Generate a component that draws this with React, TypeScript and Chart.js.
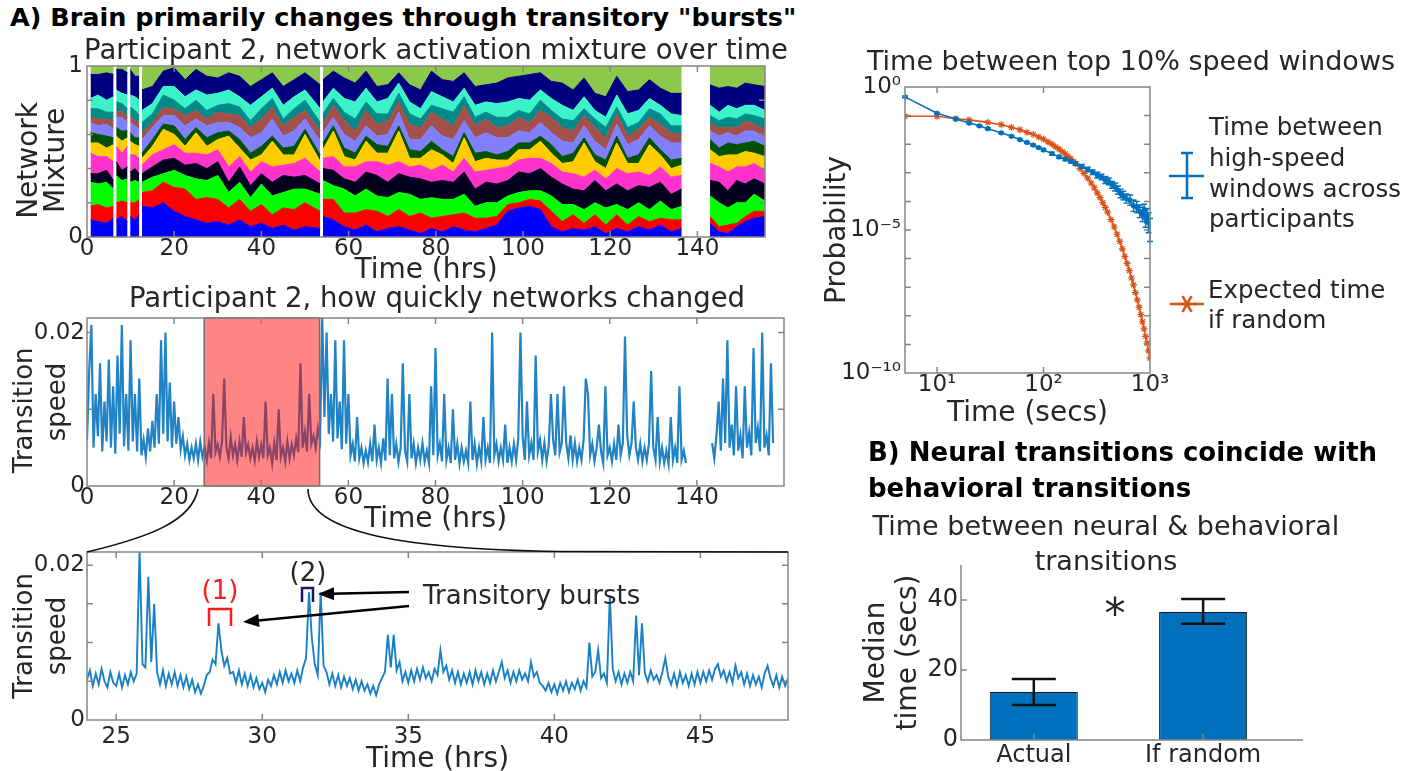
import React, { useEffect, useRef } from "react";
import { Chart, registerables } from "chart.js";
Chart.register(...registerables);

const FONT = "'DejaVu Sans', sans-serif";
const INK = "#262626";
const FRAME = "#858585";
const MBLUE = "#0072bd";
const MORANGE = "#d95319";

// ---------------- DATA ----------------
// Panel A top: network activation mixture (fraction of each network), null = no recording
const mixTimes = [0.8, 2.5, 4.5, 6.1, 6.4, 6.7, 8.0, 9.3, 9.6, 9.9,
  11.0, 12.0, 12.3, 12.6, 15, 17.5, 20, 22.5, 25, 27.5,
  30, 32.5, 35, 37.5, 40, 42.5, 45, 47.5, 50, 53.5,
  53.8, 54.1, 56.5, 59, 61.5, 64, 66.5, 69, 71.5, 74,
  76.5, 79, 81.5, 84, 86.5, 89, 91.5, 94, 96.5, 99,
  101.5, 104, 106.5, 109, 111.5, 114, 116.5, 119, 121.5, 124,
  126.5, 129, 131.5, 134, 136.4, 139.5, 142.9, 145, 147, 149,
  151, 153, 155.5];
const mixBlue = [.10, .09, .08, .11, null, .10, .12, .09, null, .12,
  .10, .13, null, .18, .17, .20, .15, .12, .10, .08,
  .09, .07, .10, .06, .08, .05, .07, .04, .06, .05,
  null, .12, .10, .06, .04, .07, .03, .05, .06, .04,
  .02, .05, .03, .06, .04, .03, .05, .07, .15, .17,
  .18, .16, .06, .03, .05, .04, .06, .02, .05, .03,
  .06, .04, .07, .03, .05, null, .08, .03, .02, .06,
  .09, .11, .12];
const mixRed = [.08, .10, .09, .07, null, .10, .09, .11, null, .08,
  .10, .09, null, .08, .10, .12, .14, .16, .12, .15,
  .13, .10, .12, .09, .11, .08, .10, .12, .14, .10,
  null, .10, .12, .08, .10, .09, .12, .07, .10, .08,
  .12, .06, .09, .07, .10, .08, .06, .05, .04, .03,
  .04, .05, .09, .06, .08, .04, .07, .05, .08, .04,
  .06, .05, .04, .07, .05, null, .04, .03, .05, .02,
  .03, .04, .03];
const mixGreen = [.14, .12, .15, .10, null, .16, .12, .14, null, .12,
  .13, .10, null, .06, .08, .05, .10, .08, .12, .10,
  .14, .09, .10, .08, .12, .11, .09, .12, .08, .10,
  null, .11, .08, .14, .10, .12, .09, .11, .10, .13,
  .08, .12, .10, .09, .11, .07, .09, .08, .05, .06,
  .05, .06, .09, .10, .06, .08, .07, .10, .06, .09,
  .08, .07, .10, .06, .08, null, .12, .14, .10, .12,
  .08, .10, .06];
const mixBlack = [.05, .06, .07, .05, null, .08, .06, .07, null, .06,
  .07, .05, null, .05, .06, .08, .07, .06, .09, .07,
  .08, .06, .09, .07, .06, .08, .10, .07, .08, .06,
  null, .07, .09, .06, .08, .10, .12, .09, .11, .10,
  .12, .09, .11, .10, .13, .10, .12, .11, .09, .12,
  .10, .13, .11, .12, .09, .11, .13, .10, .12, .11,
  .10, .13, .11, .09, .10, null, .09, .12, .10, .13,
  .11, .09, .10];
const mixMagenta = [.12, .10, .08, .11, null, .09, .10, .12, null, .10,
  .08, .09, null, .05, .07, .06, .08, .07, .06, .08,
  .07, .09, .06, .08, .07, .09, .06, .08, .10, .07,
  null, .06, .08, .07, .09, .06, .08, .10, .07, .06,
  .08, .07, .09, .06, .08, .10, .07, .09, .08, .07,
  .09, .06, .08, .07, .09, .08, .06, .07, .09, .10,
  .08, .07, .09, .10, .08, null, .10, .09, .11, .08,
  .10, .09, .08];
const mixYellow = [.06, .08, .05, .10, null, .06, .07, .05, null, .08,
  .06, .07, null, .04, .05, .12, .06, .04, .12, .05,
  .06, .18, .05, .07, .04, .15, .06, .05, .14, .06,
  null, .05, .15, .06, .04, .12, .05, .07, .18, .05,
  .04, .12, .06, .05, .12, .06, .07, .05, .04, .06,
  .05, .10, .06, .05, .07, .20, .05, .06, .15, .06,
  .05, .18, .07, .05, .06, null, .08, .06, .10, .07,
  .09, .06, .08];
const mixDarkGreen = [.06, .05, .07, .04, null, .05, .06, .04, null, .05,
  .04, .05, null, .03, .04, .03, .05, .04, .03, .05,
  .04, .03, .05, .04, .05, .03, .04, .05, .03, .04,
  null, .04, .03, .05, .04, .03, .05, .04, .03, .05,
  .04, .05, .03, .04, .03, .05, .04, .03, .05, .04,
  .04, .03, .05, .04, .05, .03, .04, .05, .04, .03,
  .05, .04, .03, .05, .04, null, .06, .05, .07, .06,
  .05, .07, .06];
const mixLavender = [.06, .05, .07, .05, null, .06, .08, .05, null, .06,
  .07, .05, null, .08, .07, .05, .06, .08, .05, .07,
  .06, .05, .07, .09, .08, .10, .07, .09, .06, .08,
  null, .06, .05, .08, .07, .06, .05, .07, .08, .06,
  .07, .09, .08, .10, .07, .09, .11, .10, .08, .07,
  .06, .08, .07, .09, .06, .07, .08, .06, .07, .08,
  .09, .07, .08, .10, .09, null, .05, .07, .06, .05,
  .07, .06, .05];
const mixBrown = [.03, .04, .03, .05, null, .03, .04, .03, null, .04,
  .03, .04, null, .04, .03, .05, .04, .06, .05, .04,
  .06, .05, .07, .06, .08, .07, .06, .08, .05, .06,
  null, .05, .07, .08, .06, .09, .07, .08, .06, .09,
  .07, .08, .10, .08, .09, .07, .08, .06, .07, .08,
  .06, .07, .09, .08, .07, .06, .08, .07, .06, .05,
  .06, .05, .07, .06, .05, null, .04, .05, .03, .05,
  .06, .04, .05];
const mixTeal = [.05, .06, .04, .05, null, .06, .04, .05, null, .05,
  .06, .04, null, .06, .05, .07, .05, .04, .06, .05,
  .04, .06, .05, .04, .06, .05, .04, .05, .06, .05,
  null, .06, .04, .05, .07, .05, .06, .04, .05, .06,
  .05, .04, .06, .08, .05, .05, .04, .06, .05, .04,
  .05, .06, .04, .05, .06, .04, .05, .06, .04, .05,
  .04, .05, .06, .04, .05, null, .05, .04, .06, .05,
  .04, .05, .06];
const mixAqua = [.06, .08, .07, .09, null, .07, .06, .08, null, .07,
  .08, .09, null, .07, .06, .05, .08, .07, .06, .09,
  .07, .08, .06, .09, .07, .06, .08, .07, .06, .08,
  null, .07, .06, .08, .10, .08, .07, .09, .06, .07,
  .06, .08, .07, .06, .05, .07, .06, .08, .09, .07,
  .08, .06, .07, .08, .06, .07, .05, .06, .07, .08,
  .07, .06, .05, .07, .06, null, .06, .05, .07, .06,
  .05, .06, .05];
const mixNavy = [.14, .12, .16, .13, null, .12, .14, .13, null, .15,
  .12, .14, null, .12, .10, .09, .11, .10, .12, .11,
  .09, .10, .12, .11, .10, .09, .11, .10, .10, .14,
  null, .13, .10, .12, .11, .10, .09, .08, .06, .10,
  .11, .12, .10, .12, .09, .11, .10, .12, .14, .13,
  .15, .10, .10, .13, .12, .11, .10, .12, .11, .13,
  .12, .11, .10, .12, .13, null, .12, .14, .11, .12,
  .13, .12, .14];
const mixTickValues = [0, 0.2, 0.4, 0.6, 0.8, 1];
const mixTickLabels = ["0", "", "", "", "", "1"];

// Panel A middle: transition speed, sampled every half hour
const speedStep = 0.5;
const speedSeg1Start = 0;
const speedSeg1 = [
  .0060, .0150, .0210, .0050, .0120, .0065, .0160, .0045, .0110, .0058, .0165, .0050, .0130, .0042, .0170, .0068, .0210, .0052, .0120, .0046,
  .0190, .0058, .0120, .0045, .0140, .0040, .0060, .0038, .0075, .0045, .0085, .0050, .0120, .0055, .0190, .0068, .0200, .0058, .0135, .0050,
  .0110, .0055, .0090, .0048, .0065, .0040, .0055, .0034, .0050, .0036, .0055, .0034, .0058, .0038, .0050, .0033, .0056, .0036, .0120, .0044,
  .0054, .0038, .0058, .0140, .0050, .0036, .0064, .0040, .0054, .0034, .0058, .0038, .0090, .0043, .0054, .0036, .0050, .0033, .0058, .0038,
  .0054, .0036, .0110, .0040, .0050, .0029, .0056, .0034, .0100, .0038, .0050, .0032, .0058, .0036, .0054, .0040, .0062, .0044, .0160, .0050,
  .0070, .0045, .0120, .0055, .0065, .0050, .0075, .0060, .0220, .0090, .0200, .0068, .0120, .0058, .0190, .0062, .0110, .0048, .0190, .0055,
  .0120, .0040, .0055, .0032, .0090, .0036, .0050, .0030, .0046, .0031, .0055, .0032, .0080, .0034, .0050, .0030, .0062, .0033, .0140, .0040,
  .0120, .0036, .0055, .0031, .0050, .0160, .0046, .0032, .0120, .0036, .0055, .0030, .0050, .0034, .0056, .0032, .0046, .0030, .0130, .0040,
  .0180, .0040, .0055, .0032, .0120, .0034, .0050, .0030, .0100, .0034, .0055, .0029, .0050, .0032, .0046, .0030, .0110, .0034, .0055, .0029,
  .0050, .0032, .0090, .0034, .0050, .0030, .0200, .0040, .0055, .0032, .0050, .0034, .0080, .0030, .0050, .0032, .0055, .0034, .0062, .0200,
  .0066, .0034, .0110, .0040, .0056, .0034, .0170, .0045, .0060, .0034, .0056, .0032, .0052, .0120, .0060, .0040, .0120, .0044, .0056, .0130,
  .0056, .0036, .0066, .0034, .0056, .0032, .0050, .0034, .0060, .0140, .0120, .0040, .0055, .0032, .0050, .0080, .0045, .0030, .0130, .0040,
  .0050, .0032, .0055, .0034, .0080, .0040, .0056, .0195, .0066, .0040, .0056, .0110, .0050, .0034, .0055, .0032, .0050, .0034, .0056, .0150,
  .0050, .0034, .0090, .0032, .0050, .0030, .0046, .0029, .0090, .0034, .0050, .0030, .0130, .0034, .0046, .0030];
const speedGapAt = 140;
const speedSeg2Start = 143.5;
const speedSeg2 = [.0056, .0036, .0066, .0110, .0046, .0140, .0056, .0190, .0050, .0080, .0040, .0130, .0046, .0066, .0036,
  .0130, .0050, .0070, .0040, .0180, .0056, .0076, .0045, .0200, .0050, .0066, .0040, .0160, .0056];
const burstWindow = [26.9, 53.4];

// Panel A bottom: zoomed transition speed, sampled every 0.1 h from 24.0 h to 48.0 h
const zoomStart = 24.0;
const zoomStep = 0.1;
const zoomSpeed = [
  .0052, .0064, .0044, .0060, .0046, .0066, .0050, .0042, .0062, .0048,
  .0044, .0060, .0042, .0058, .0046, .0062, .0050, .0060, .0220, .0072,
  .0068, .0185, .0075, .0150, .0062, .0046, .0064, .0044, .0060, .0046,
  .0062, .0044, .0058, .0042, .0056, .0040, .0052, .0036, .0046, .0034,
  .0044, .0058, .0062, .0078, .0072, .0125, .0090, .0070, .0080, .0060,
  .0062, .0048, .0064, .0046, .0060, .0044, .0058, .0042, .0054, .0040,
  .0048, .0036, .0052, .0044, .0058, .0046, .0062, .0048, .0064, .0050,
  .0060, .0048, .0064, .0050, .0068, .0080, .0165, .0105, .0072, .0058,
  .0165, .0070, .0062, .0046, .0060, .0044, .0058, .0042, .0056, .0044,
  .0054, .0040, .0052, .0038, .0050, .0038, .0046, .0034, .0044, .0032,
  .0046, .0054, .0062, .0110, .0068, .0110, .0064, .0075, .0050, .0062,
  .0048, .0064, .0050, .0066, .0052, .0068, .0054, .0062, .0050, .0066,
  .0058, .0090, .0062, .0070, .0052, .0064, .0048, .0062, .0046, .0060,
  .0048, .0062, .0046, .0064, .0050, .0062, .0046, .0060, .0048, .0064,
  .0050, .0062, .0075, .0054, .0064, .0048, .0062, .0050, .0064, .0052,
  .0060, .0050, .0075, .0056, .0062, .0048, .0044, .0038, .0048, .0036,
  .0046, .0034, .0048, .0038, .0050, .0036, .0048, .0040, .0052, .0038,
  .0050, .0042, .0100, .0056, .0062, .0090, .0054, .0060, .0048, .0160,
  .0066, .0050, .0062, .0046, .0060, .0048, .0062, .0050, .0135, .0058,
  .0125, .0060, .0050, .0064, .0052, .0058, .0048, .0062, .0080, .0056,
  .0046, .0060, .0044, .0062, .0048, .0058, .0044, .0060, .0046, .0062,
  .0048, .0062, .0050, .0064, .0052, .0066, .0072, .0056, .0064, .0050,
  .0062, .0048, .0070, .0054, .0062, .0046, .0060, .0044, .0058, .0046,
  .0056, .0042, .0060, .0070, .0054, .0044, .0058, .0042, .0056, .0044,
  .0054];

const hourTicks = [0, 20, 40, 60, 80, 100, 120, 140];
const zoomHourTicks = [25, 30, 35, 40, 45];
const speedTickValues = [0, 0.01, 0.02];
const speedTickLabels = ["0", "", "0.02"];
const zoomSpeedTickValues = [0, 0.005, 0.01, 0.015, 0.02];
const zoomSpeedTickLabels = ["0", "", "", "", "0.02"];

// Top right: time between top-10% speed windows
const gapTimesActual = [5, 10, 15, 20, 25, 30, 40, 50, 60, 70, 80, 90, 100, 120, 140, 160, 180, 200, 230, 260,
  290, 320, 350, 380, 410, 440, 470, 500, 530, 560, 600, 650, 700, 750, 800, 850, 880, 910, 940, 970, 1000];
const gapProbActual = [4.5e-1, 1.2e-1, 7.6e-2, 5.5e-2, 4.4e-2, 3.5e-2, 2.5e-2, 1.9e-2, 1.45e-2, 1.15e-2,
  9.3e-3, 7.6e-3, 6.3e-3, 4.7e-3, 3.6e-3, 3.0e-3, 2.5e-3, 2.1e-3, 1.66e-3, 1.3e-3,
  1.05e-3, 8.3e-4, 7.1e-4, 5.6e-4, 5.0e-4, 3.8e-4, 3.2e-4, 2.5e-4, 1.9e-4, 1.6e-4,
  1.26e-4, 1.1e-4, 7.1e-5, 6.3e-5, 4.5e-5, 3.5e-5, 5.0e-5, 2.5e-5, 3.2e-5, 1.8e-5, 1.0e-5];
const gapErrDecadesActual = [.03, .03, .03, .03, .03, .03, .03, .03, .03, .03, .03, .03, .04, .05, .05, .05, .05, .06, .07, .08,
  .08, .1, .1, .12, .12, .12, .14, .14, .15, .15, .16, .18, .2, .2, .22, .25, .2, .3, .25, .35, .4];
const gapTimesRandom = [5, 10, 15, 20, 30, 40, 50, 60, 70, 80, 90, 100, 110, 120, 130, 140, 150, 160, 170, 180,
  190, 200, 220, 240, 260, 280, 300, 320, 340, 360, 380, 400, 430, 460, 490, 520, 550, 580, 610, 640,
  670, 700, 730, 760, 790, 820, 850, 880, 910, 940, 970, 1000];
const gapProbRandom = [9.5e-2, 9.5e-2, 7.8e-2, 7.1e-2, 5.8e-2, 4.8e-2, 3.9e-2, 3.2e-2, 2.6e-2, 2.2e-2,
  1.8e-2, 1.5e-2, 1.2e-2, 1.0e-2, 8.1e-3, 6.8e-3, 5.5e-3, 4.6e-3, 3.7e-3, 3.1e-3,
  2.5e-3, 2.1e-3, 1.4e-3, 9.5e-4, 6.5e-4, 4.4e-4, 3.0e-4, 2.0e-4, 1.35e-4, 9.1e-5,
  6.2e-5, 4.2e-5, 2.3e-5, 1.3e-5, 7.1e-6, 4.0e-6, 2.2e-6, 1.2e-6, 6.8e-7, 3.8e-7,
  2.1e-7, 1.2e-7, 6.5e-8, 3.6e-8, 2.0e-8, 1.1e-8, 6.2e-9, 3.5e-9, 1.9e-9, 1.1e-9, 5.9e-10, 3.3e-10];
const secTicks = [10, 100, 1000];
const secTickLabels = ["10\u00b9", "10\u00b2", "10\u00b3"];
const probTicks = [1e-10, 1e-9, 1e-8, 1e-7, 1e-6, 1e-5, 1e-4, 1e-3, 1e-2, 1e-1, 1];
const probTickLabels = ["10\u207b\u00b9\u2070", "", "", "", "", "10\u207b\u2075", "", "", "", "", "10\u2070"];

// Panel B: median time between neural & behavioral transitions
const barCategories = ["Actual", "If random"];
const barMedians = [13.7, 36.6];
const barErrLow = [10.0, 33.2];
const barErrHigh = [17.4, 40.3];
const barTicks = [0, 20, 40];

// ---------------- HELPERS ----------------
const tickFont = (size = 23) => ({ family: FONT, size, lineHeight: 1 });
const axTitle = (text: any, lh: number, pad: any, size = 28) => ({
  display: true, text, color: INK, font: { family: FONT, size, lineHeight: lh }, padding: pad,
});
const noGrid = { display: false, drawTicks: false };
const noBorder = { display: false };

function framePlugin(o: any) {
  return {
    id: "frame" + Math.random().toString(36).slice(2),
    afterDatasetsDraw(chart: any) {
      const { ctx, chartArea: a, scales } = chart;
      if (o.under) o.under(chart);
      ctx.save();
      ctx.strokeStyle = o.color || FRAME;
      ctx.lineWidth = o.lw || 1.5;
      ctx.beginPath();
      if (o.box) ctx.rect(a.left, a.top, a.right - a.left, a.bottom - a.top);
      else { ctx.moveTo(a.left, a.top); ctx.lineTo(a.left, a.bottom); ctx.lineTo(a.right, a.bottom); }
      const L = o.len || 6;
      for (const v of o.xt) {
        const p = scales.x.getPixelForValue(v);
        ctx.moveTo(p, a.bottom); ctx.lineTo(p, a.bottom - L);
        if (o.box) { ctx.moveTo(p, a.top); ctx.lineTo(p, a.top + L); }
      }
      for (const v of o.yt) {
        const p = scales.y.getPixelForValue(v);
        ctx.moveTo(a.left, p); ctx.lineTo(a.left + L, p);
        if (o.box) { ctx.moveTo(a.right, p); ctx.lineTo(a.right - L, p); }
      }
      ctx.stroke();
      ctx.restore();
      if (o.extra) o.extra(chart);
    },
  };
}

function arrow(ctx: CanvasRenderingContext2D, x0: number, y0: number, x1: number, y1: number) {
  const head = 16, w = 6.5;
  const ang = Math.atan2(y1 - y0, x1 - x0);
  const c = Math.cos(ang), s = Math.sin(ang);
  ctx.beginPath(); ctx.moveTo(x0, y0); ctx.lineTo(x1 - c * head * 0.8, y1 - s * head * 0.8); ctx.stroke();
  ctx.beginPath(); ctx.moveTo(x1, y1);
  ctx.lineTo(x1 - head * c + w * s, y1 - head * s - w * c);
  ctx.lineTo(x1 - head * c - w * s, y1 - head * s + w * c);
  ctx.closePath(); ctx.fill();
}

function starMark(ctx: CanvasRenderingContext2D, x: number, y: number, r: number) {
  ctx.beginPath();
  for (const a of [0, Math.PI / 3, (2 * Math.PI) / 3]) {
    ctx.moveTo(x - r * Math.cos(a), y - r * Math.sin(a));
    ctx.lineTo(x + r * Math.cos(a), y + r * Math.sin(a));
  }
  ctx.stroke();
}

const baseOpts = {
  animation: false as const,
  responsive: false,
  events: [] as any[],
  plugins: { legend: { display: false }, tooltip: { enabled: false } },
};

// ---------------- CHART CONFIGS ----------------
function mixtureConfig(): any {
  const layers = [
    { data: mixBlue, color: "#0000ff" },
    { data: mixRed, color: "#ff0000" },
    { data: mixGreen, color: "#00ff00" },
    { data: mixBlack, color: "#00001e" },
    { data: mixMagenta, color: "#ff33cc" },
    { data: mixYellow, color: "#ffcc00" },
    { data: mixDarkGreen, color: "#005200" },
    { data: mixLavender, color: "#8080ff" },
    { data: mixBrown, color: "#a3504b" },
    { data: mixTeal, color: "#008a8a" },
    { data: mixAqua, color: "#3cf2c8" },
    { data: mixNavy, color: "#00007f" },
  ];
  const rest = mixTimes.map((_, i) =>
    mixBlue[i] === null ? null : Math.max(0, 1 - layers.reduce((s, l) => s + (l.data[i] as number), 0)));
  const all = [...layers, { data: rest, color: "#8cc84b" }];
  return {
    type: "line",
    data: {
      datasets: all.map((l, k) => ({
        data: mixTimes.map((t, i) => ({ x: t, y: l.data[i] })),
        backgroundColor: l.color, borderColor: l.color, borderWidth: 1,
        pointRadius: 0, fill: k === 0 ? "origin" : "-1", tension: 0, spanGaps: false,
      })),
    },
    options: {
      ...baseOpts,
      layout: { padding: { left: 0, top: 26, right: 25, bottom: 0 } },
      scales: {
        x: {
          type: "linear", min: 0, max: 155.5, grid: noGrid, border: noBorder,
          afterFit: (s: any) => { s.height = 53; },
          afterBuildTicks: (s: any) => { s.ticks = hourTicks.map((v) => ({ value: v })); },
          ticks: { font: tickFont(), color: INK, padding: 1, maxRotation: 0, autoSkip: false, callback: (v: any) => String(v) },
          title: axTitle("Time (hrs)", 1, { top: 0, bottom: 5 }),
        },
        y: {
          type: "linear", stacked: true, min: 0, max: 1, grid: noGrid, border: noBorder,
          afterFit: (s: any) => { s.width = 87; },
          afterBuildTicks: (s: any) => { s.ticks = mixTickValues.map((v) => ({ value: v })); },
          ticks: { font: tickFont(), color: INK, padding: 4, autoSkip: false, callback: (_v: any, i: number) => mixTickLabels[i] },
          title: axTitle(["Network  ", "Mixture  "], 0.96, { top: 16, bottom: 0 }),
        },
      },
    },
    plugins: [framePlugin({ box: true, xt: hourTicks, yt: mixTickValues })],
  };
}

function speedConfig(): any {
  const pts = [
    ...speedSeg1.map((y, i) => ({ x: speedSeg1Start + i * speedStep, y })),
    { x: speedGapAt, y: null },
    ...speedSeg2.map((y, i) => ({ x: speedSeg2Start + i * speedStep, y })),
  ];
  return {
    type: "line",
    data: { datasets: [{ data: pts, borderColor: "rgba(0,114,189,0.88)", borderWidth: 2.2, pointRadius: 0, tension: 0, spanGaps: false, fill: false }] },
    options: {
      ...baseOpts,
      layout: { padding: { left: 0, top: 18, right: 16, bottom: 0 } },
      scales: {
        x: {
          type: "linear", min: 0, max: 160, grid: noGrid, border: noBorder,
          afterFit: (s: any) => { s.height = 54; },
          afterBuildTicks: (s: any) => { s.ticks = hourTicks.map((v) => ({ value: v })); },
          ticks: { font: tickFont(), color: INK, padding: 1, maxRotation: 0, autoSkip: false, callback: (v: any) => String(v) },
          title: axTitle("Time (hrs)", 1, { top: 0, bottom: 6 }),
        },
        y: {
          type: "linear", min: 0, max: 0.0219, grid: noGrid, border: noBorder,
          afterFit: (s: any) => { s.width = 87; },
          afterBuildTicks: (s: any) => { s.ticks = speedTickValues.map((v) => ({ value: v })); },
          ticks: { font: tickFont(), color: INK, padding: 2, autoSkip: false, callback: (_v: any, i: number) => speedTickLabels[i] },
          title: axTitle(["Transition  ", "speed"], 1.27, { top: 8.5, bottom: 0 }, 26),
        },
      },
    },
    plugins: [framePlugin({
      box: true, xt: hourTicks, yt: speedTickValues,
      under: (chart: any) => {
        const { ctx, chartArea: a, scales } = chart;
        const x0 = scales.x.getPixelForValue(burstWindow[0]);
        const x1 = scales.x.getPixelForValue(burstWindow[1]);
        ctx.save();
        ctx.fillStyle = "rgba(255,0,0,0.48)";
        ctx.fillRect(x0, a.top, x1 - x0, a.bottom - a.top);
        ctx.strokeStyle = "#6e6e6e"; ctx.lineWidth = 1.5;
        ctx.strokeRect(x0, a.top, x1 - x0, a.bottom - a.top);
        ctx.restore();
      },
    })],
  };
}

function zoomConfig(): any {
  const pts = zoomSpeed.map((y, i) => ({ x: zoomStart + i * zoomStep, y }));
  const T = 486;
  return {
    type: "line",
    data: { datasets: [{ data: pts, borderColor: "rgba(0,114,189,0.9)", borderWidth: 1.9, pointRadius: 0, tension: 0, fill: false }] },
    options: {
      ...baseOpts,
      layout: { padding: { left: 0, top: 66, right: 12, bottom: 0 } },
      scales: {
        x: {
          type: "linear", min: 24, max: 48, grid: noGrid, border: noBorder,
          afterFit: (s: any) => { s.height = 51; },
          afterBuildTicks: (s: any) => { s.ticks = zoomHourTicks.map((v) => ({ value: v })); },
          ticks: { font: tickFont(), color: INK, padding: 5.5, maxRotation: 0, autoSkip: false, callback: (v: any) => String(v) },
          title: axTitle("Time (hrs)", 0.5, { top: 0, bottom: 4 }),
        },
        y: {
          type: "linear", min: 0, max: 0.0217, grid: noGrid, border: noBorder,
          afterFit: (s: any) => { s.width = 87; },
          afterBuildTicks: (s: any) => { s.ticks = zoomSpeedTickValues.map((v) => ({ value: v })); },
          ticks: { font: tickFont(), color: INK, padding: 2, autoSkip: false, callback: (_v: any, i: number) => zoomSpeedTickLabels[i] },
          title: axTitle(["Transition", "speed"], 1.27, { top: 8.5, bottom: 0 }, 26),
        },
      },
    },
    plugins: [framePlugin({
      box: true, xt: zoomHourTicks, yt: zoomSpeedTickValues,
      extra: (chart: any) => {
        const ctx: CanvasRenderingContext2D = chart.ctx;
        ctx.save();
        // connector curves from the highlighted window above
        ctx.strokeStyle = "#111"; ctx.lineWidth = 1.6;
        ctx.beginPath(); ctx.moveTo(198, 489 - T); ctx.bezierCurveTo(192, 521 - T, 150, 537 - T, 87, 552 - T); ctx.stroke();
        ctx.beginPath(); ctx.moveTo(308, 489 - T); ctx.bezierCurveTo(308, 528 - T, 385, 549 - T, 560, 551.5 - T); ctx.lineTo(788, 552 - T); ctx.stroke();
        // burst brackets
        ctx.lineWidth = 2.5;
        ctx.strokeStyle = "#ff1a1a";
        ctx.beginPath(); ctx.moveTo(209, 626 - T); ctx.lineTo(209, 609 - T); ctx.lineTo(231, 609 - T); ctx.lineTo(231, 626 - T); ctx.stroke();
        ctx.strokeStyle = "#1a1a5e";
        ctx.beginPath(); ctx.moveTo(302, 602 - T); ctx.lineTo(302, 588 - T); ctx.lineTo(313, 588 - T); ctx.lineTo(313, 602 - T); ctx.stroke();
        // arrows
        ctx.strokeStyle = "#000"; ctx.fillStyle = "#000"; ctx.lineWidth = 2.5;
        arrow(ctx, 409, 592 - T, 318, 594 - T);
        arrow(ctx, 409, 606 - T, 243, 622 - T);
        ctx.restore();
      },
    })],
  };
}

function gapConfig(): any {
  const L = 820, T = 60;
  return {
    type: "line",
    data: {
      datasets: [
        {
          data: gapTimesActual.map((x, i) => ({ x, y: gapProbActual[i] })),
          borderColor: MBLUE, backgroundColor: MBLUE, borderWidth: 1.6, pointRadius: 1.8, pointStyle: "circle", tension: 0, fill: false,
        },
        {
          data: gapTimesRandom.map((x, i) => ({ x, y: gapProbRandom[i] })),
          borderColor: MORANGE, backgroundColor: MORANGE, borderWidth: 1.6, pointRadius: 3.5, pointBorderWidth: 1.2, pointStyle: "star", tension: 0, fill: false,
        },
      ],
    },
    options: {
      ...baseOpts,
      layout: { padding: { left: 0, top: 27, right: 272, bottom: 0 } },
      scales: {
        x: {
          type: "logarithmic", min: 5, max: 1000, grid: noGrid, border: noBorder,
          afterFit: (s: any) => { s.height = 67; },
          afterBuildTicks: (s: any) => { s.ticks = secTicks.map((v) => ({ value: v })); },
          ticks: { font: tickFont(), color: INK, padding: 1, maxRotation: 0, autoSkip: false, callback: (_v: any, i: number) => secTickLabels[i] },
          title: axTitle("Time (secs)", 1, { top: 0, bottom: 12 }),
        },
        y: {
          type: "logarithmic", min: 1e-10, max: 1, grid: noGrid, border: noBorder,
          afterFit: (s: any) => { s.width = 85; },
          afterBuildTicks: (s: any) => { s.ticks = probTicks.map((v) => ({ value: v })); },
          ticks: { font: tickFont(), color: INK, padding: 4, autoSkip: false, callback: (_v: any, i: number) => probTickLabels[i] },
          title: axTitle("Probability", 1, { top: 4, bottom: 0 }),
        },
      },
    },
    plugins: [framePlugin({
      box: true, xt: secTicks, yt: probTicks,
      under: (chart: any) => {
        const { ctx, scales } = chart;
        ctx.save();
        ctx.strokeStyle = MBLUE; ctx.lineWidth = 1.4;
        ctx.beginPath();
        gapTimesActual.forEach((t, i) => {
          const px = scales.x.getPixelForValue(t);
          const f = Math.pow(10, gapErrDecadesActual[i]);
          const y0 = scales.y.getPixelForValue(gapProbActual[i] / f);
          const y1 = scales.y.getPixelForValue(gapProbActual[i] * f);
          ctx.moveTo(px, y0); ctx.lineTo(px, y1);
          ctx.moveTo(px - 3, y0); ctx.lineTo(px + 3, y0);
          ctx.moveTo(px - 3, y1); ctx.lineTo(px + 3, y1);
        });
        ctx.stroke();
        ctx.restore();
      },
      extra: (chart: any) => {
        const ctx: CanvasRenderingContext2D = chart.ctx;
        ctx.save();
        ctx.lineWidth = 2.5; ctx.strokeStyle = MBLUE;
        ctx.beginPath();
        ctx.moveTo(1169 - L, 176 - T); ctx.lineTo(1204 - L, 176 - T);
        ctx.moveTo(1187 - L, 153 - T); ctx.lineTo(1187 - L, 198 - T);
        ctx.moveTo(1181 - L, 153 - T); ctx.lineTo(1193 - L, 153 - T);
        ctx.moveTo(1181 - L, 198 - T); ctx.lineTo(1193 - L, 198 - T);
        ctx.stroke();
        ctx.strokeStyle = MORANGE;
        ctx.beginPath(); ctx.moveTo(1170 - L, 304 - T); ctx.lineTo(1204 - L, 304 - T); ctx.stroke();
        starMark(ctx, 1187 - L, 304 - T, 9);
        ctx.restore();
      },
    })],
  };
}

function barConfig(): any {
  return {
    type: "bar",
    data: {
      datasets: [{
        data: barMedians.map((v, i) => ({ x: i + 1, y: v })),
        backgroundColor: MBLUE, borderColor: "#1b1b1b", borderWidth: 1,
        barPercentage: 0.52, categoryPercentage: 1,
      }],
    },
    options: {
      ...baseOpts,
      layout: { padding: { left: 0, top: 20, right: 17, bottom: 0 } },
      scales: {
        x: {
          type: "linear", min: 0.57, max: 2.59, offset: false, grid: noGrid, border: noBorder,
          afterFit: (s: any) => { s.height = 31; },
          afterBuildTicks: (s: any) => { s.ticks = barCategories.map((_c, i) => ({ value: i + 1 })); },
          ticks: { font: tickFont(24), color: INK, padding: 4, maxRotation: 0, autoSkip: false, callback: (_v: any, i: number) => barCategories[i] },
        },
        y: {
          type: "linear", min: 0, max: 50, grid: noGrid, border: noBorder,
          afterFit: (s: any) => { s.width = 111; },
          afterBuildTicks: (s: any) => { s.ticks = barTicks.map((v) => ({ value: v })); },
          ticks: { font: tickFont(24), color: INK, padding: 3, autoSkip: false, callback: (v: any) => String(v) },
          title: axTitle(["Median", "time (secs)"], 1.14, { top: 11, bottom: 0 }),
        },
      },
    },
    plugins: [framePlugin({
      box: false, xt: [1, 2], yt: barTicks,
      under: (chart: any) => {
        const { ctx, scales } = chart;
        ctx.save();
        ctx.strokeStyle = "#111"; ctx.lineWidth = 2.5;
        ctx.beginPath();
        barMedians.forEach((_v, i) => {
          const px = scales.x.getPixelForValue(i + 1);
          const y0 = scales.y.getPixelForValue(barErrLow[i]);
          const y1 = scales.y.getPixelForValue(barErrHigh[i]);
          ctx.moveTo(px, y0); ctx.lineTo(px, y1);
          ctx.moveTo(px - 22, y0); ctx.lineTo(px + 22, y0);
          ctx.moveTo(px - 22, y1); ctx.lineTo(px + 22, y1);
        });
        ctx.stroke();
        ctx.restore();
      },
    })],
  };
}

// ---------------- COMPONENTS ----------------
function Txt(props: { x: number; y: number; size: number; bold?: boolean; color?: string; center?: boolean; children: any }) {
  const { x, y, size, bold, color, center, children } = props;
  return (
    <div style={{
      position: "absolute", left: x, top: y, transform: `translate(${center ? "-50%" : "0"}, -50%)`,
      fontSize: size, lineHeight: 1, fontWeight: bold ? 700 : 400, whiteSpace: "nowrap",
      color: color || INK, fontFamily: FONT,
    }}>{children}</div>
  );
}

type Geo = { left: number; top: number; width: number; height: number };
const geoMix: Geo = { left: 0, top: 40, width: 790, height: 250 };
const geoSpeed: Geo = { left: 0, top: 300, width: 800, height: 240 };
const geoZoom: Geo = { left: 0, top: 486, width: 800, height: 285 };
const geoGap: Geo = { left: 820, top: 60, width: 602, height: 380 };
const geoBar: Geo = { left: 850, top: 545, width: 470, height: 226 };

function Cv({ g, cref }: { g: Geo; cref: any }) {
  return <canvas ref={cref} width={g.width} height={g.height}
    style={{ position: "absolute", left: g.left, top: g.top, width: g.width, height: g.height }} />;
}

export default function App() {
  const r1 = useRef<HTMLCanvasElement>(null);
  const r2 = useRef<HTMLCanvasElement>(null);
  const r3 = useRef<HTMLCanvasElement>(null);
  const r4 = useRef<HTMLCanvasElement>(null);
  const r5 = useRef<HTMLCanvasElement>(null);

  useEffect(() => {
    Chart.defaults.font.family = FONT;
    const charts: Chart[] = [];
    charts.push(new Chart(r1.current as HTMLCanvasElement, mixtureConfig()));
    charts.push(new Chart(r2.current as HTMLCanvasElement, speedConfig()));
    charts.push(new Chart(r3.current as HTMLCanvasElement, zoomConfig()));
    charts.push(new Chart(r4.current as HTMLCanvasElement, gapConfig()));
    charts.push(new Chart(r5.current as HTMLCanvasElement, barConfig()));
    return () => charts.forEach((c) => c.destroy());
  }, []);

  return (
    <div style={{ position: "absolute", left: 0, top: 0, width: 1422, height: 771, overflow: "hidden", background: "#fff", fontFamily: FONT }}>
      <Cv g={geoMix} cref={r1} />
      <Cv g={geoSpeed} cref={r2} />
      <Cv g={geoZoom} cref={r3} />
      <Cv g={geoGap} cref={r4} />
      <Cv g={geoBar} cref={r5} />

      <Txt x={10} y={18} size={25.5} bold color="#000">{'A) Brain primarily changes through transitory "bursts"'}</Txt>
      <Txt x={436} y={50} size={27.5} center>Participant 2, network activation mixture over time</Txt>
      <Txt x={437} y={298} size={27.5} center>Participant 2, how quickly networks changed</Txt>
      <Txt x={220} y={590} size={26} center color="#ff1a1a">(1)</Txt>
      <Txt x={308} y={572} size={26} center>(2)</Txt>
      <Txt x={423} y={595} size={26}>Transitory bursts</Txt>

      <Txt x={1131} y={60} size={27} center>Time between top 10% speed windows</Txt>
      <Txt x={1209} y={127} size={24.5}>Time between</Txt>
      <Txt x={1209} y={158} size={24.5}>high-speed</Txt>
      <Txt x={1209} y={189} size={24.5}>windows across</Txt>
      <Txt x={1209} y={219} size={24.5}>participants</Txt>
      <Txt x={1208} y={290} size={24.5}>Expected time</Txt>
      <Txt x={1208} y={320} size={24.5}>if random</Txt>

      <Txt x={868} y={452} size={26} bold color="#000">B) Neural transitions coincide with</Txt>
      <Txt x={868} y={488} size={26} bold color="#000">behavioral transitions</Txt>
      <Txt x={1106} y={525} size={27} center>Time between neural &amp; behavioral</Txt>
      <Txt x={1106} y={560} size={27} center>transitions</Txt>
      <Txt x={1115} y={614} size={42} center>*</Txt>
    </div>
  );
}
